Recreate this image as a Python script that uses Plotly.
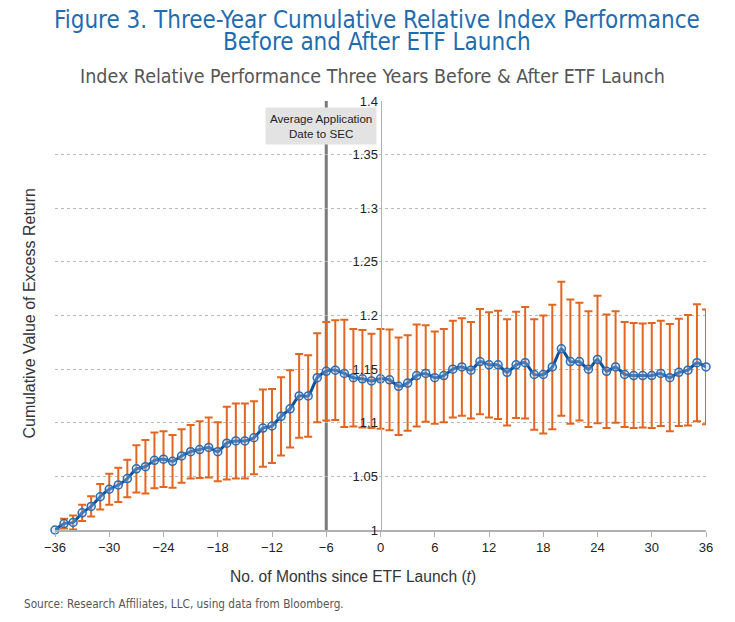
import plotly.graph_objects as go

months = list(range(-36, 37))
values = [1.000, 1.006, 1.007, 1.016, 1.022, 1.031, 1.038, 1.042, 1.048, 1.057,
          1.059, 1.065, 1.066, 1.064, 1.069, 1.073, 1.075, 1.077, 1.073, 1.081,
          1.083, 1.083, 1.086, 1.095, 1.097, 1.106, 1.113, 1.125, 1.125, 1.142,
          1.148, 1.149, 1.146, 1.142, 1.141, 1.139, 1.141, 1.140, 1.134, 1.137,
          1.144, 1.146, 1.142, 1.144, 1.150, 1.152, 1.149, 1.157, 1.154, 1.154,
          1.147, 1.154, 1.156, 1.145, 1.145, 1.152, 1.169, 1.157, 1.157, 1.150,
          1.159, 1.148, 1.152, 1.145, 1.144, 1.144, 1.144, 1.146, 1.142, 1.147,
          1.149, 1.156, 1.152]
errors = [0.000, 0.0045, 0.0065, 0.0075, 0.0095, 0.012, 0.0145, 0.016, 0.0175, 0.022,
          0.025, 0.026, 0.026, 0.0245, 0.025, 0.025, 0.0265, 0.028, 0.0275, 0.034,
          0.035, 0.035, 0.034, 0.036, 0.0345, 0.0365, 0.036, 0.039, 0.038, 0.0415,
          0.046, 0.0465, 0.050, 0.0455, 0.0455, 0.044, 0.0465, 0.047, 0.0455, 0.0445,
          0.0475, 0.045, 0.043, 0.0435, 0.045, 0.0455, 0.045, 0.049, 0.049, 0.0505,
          0.0495, 0.0495, 0.052, 0.0515, 0.055, 0.058, 0.0625, 0.058, 0.055, 0.054,
          0.0595, 0.053, 0.052, 0.049, 0.049, 0.0485, 0.049, 0.049, 0.050, 0.050,
          0.0515, 0.0545, 0.0535]
x_ticks = list(range(-36, 37, 6))
y_ticks = [1, 1.05, 1.1, 1.15, 1.2, 1.25, 1.3, 1.35, 1.4]
y_tick_labels = ["1", "1.05", "1.1", "1.15", "1.2", "1.25", "1.3", "1.35", "1.4"]
application_month = -6

title_line1 = "Figure 3. Three-Year Cumulative Relative Index Performance"
title_line2 = "Before and After ETF Launch"
subtitle_text = "Index Relative Performance Three Years Before & After ETF Launch"
source_text = "Source: Research Affiliates, LLC, using data from Bloomberg."
note_text = "Average Application<br>Date to SEC"
x_title = "No. of Months since ETF Launch (<i>t</i>)"
y_title = "Cumulative Value of Excess Return"

COND = "DejaVu Sans Condensed, Liberation Sans Narrow, Roboto, sans-serif"
ARIAL = "Liberation Sans, Arial, sans-serif"

fig = go.Figure()
fig.add_trace(go.Scatter(
    x=months, y=values, mode="lines+markers",
    line=dict(color="#0f5199", width=3, shape="spline", smoothing=0.6),
    marker=dict(symbol="circle", size=8, color="rgba(170,200,235,0.35)",
                line=dict(color="#2b6cb5", width=1.5)),
    error_y=dict(type="data", array=errors, visible=True, color="#e2661f",
                 thickness=2, width=4),
    cliponaxis=False, showlegend=False,
))

fig.add_shape(type="line", x0=application_month, x1=application_month, y0=1, y1=1.4,
              xref="x", yref="y", line=dict(color="#7a7a7a", width=3), layer="below")

fig.add_annotation(x=application_month, y=1.3764, xref="x", yref="y", text=note_text,
                   showarrow=False, xshift=-5, font=dict(family=ARIAL, size=11.6, color="#222"),
                   bgcolor="#e3e3e3", borderpad=4, xanchor="center", yanchor="middle")

def ptxt(text, x, y, xshift=0, yshift=0, size=12, color="#333", family=COND,
         xanchor="center", yanchor="middle", angle=0):
    fig.add_annotation(x=x, y=y, xref="paper", yref="paper", xshift=xshift, yshift=yshift,
                       text=text, showarrow=False, xanchor=xanchor, yanchor=yanchor,
                       textangle=angle, font=dict(family=family, size=size, color=color))

ptxt(title_line1, 0.5, 1, xshift=-4, yshift=81, size=24, color="#1f6cb0")
ptxt(title_line2, 0.5, 1, xshift=-4, yshift=59, size=24, color="#1f6cb0")
ptxt(subtitle_text, 0.5, 1, xshift=-8, yshift=25, size=19.5, color="#555")
ptxt(source_text, 0, 0, xshift=-33, yshift=-74, size=11.7, color="#555", xanchor="left")
ptxt(x_title, 0, 0, xshift=298, yshift=-46, size=15.6, color="#333", family=ARIAL)
ptxt(y_title, 0, 0.5, xshift=-26, yshift=2, size=16, color="#333", family=ARIAL, angle=-90)

fig.update_layout(
    width=727, height=614,
    margin=dict(l=47, r=29, t=93, b=92),
    paper_bgcolor="white", plot_bgcolor="white",
    xaxis=dict(range=[-36, 36], tickvals=x_ticks, showgrid=False, zeroline=False,
               showline=True, linecolor="#b0b0b0", linewidth=1.5,
               ticks="outside", ticklen=5, tickcolor="#b0b0b0", automargin=False,
               tickfont=dict(family=ARIAL, size=13, color="#222")),
    yaxis=dict(range=[1, 1.4], tickvals=y_ticks, ticktext=y_tick_labels,
               anchor="free", position=0.5, showline=True, linecolor="#b0b0b0", linewidth=1,
               showgrid=True, gridcolor="#b8b8b8", griddash="dot", gridwidth=1,
               zeroline=False, ticks="", automargin=False,
               tickfont=dict(family=ARIAL, size=13, color="#222")),
)

fig.write_html("out.html")
